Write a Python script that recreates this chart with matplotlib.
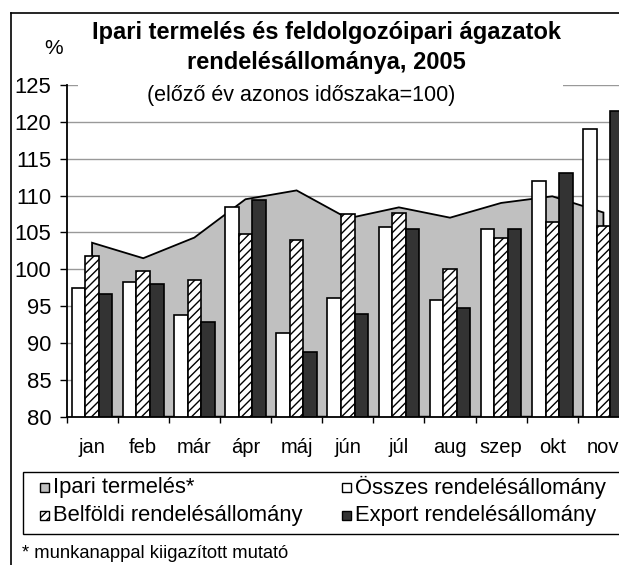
import matplotlib
matplotlib.use('Agg')
import matplotlib.pyplot as plt
from matplotlib.patches import Rectangle
from matplotlib.lines import Line2D
import numpy as np

plt.rcParams['font.family'] = ['Liberation Sans', 'DejaVu Sans']
plt.rcParams['hatch.linewidth'] = 1.0

months = ['jan', 'feb', 'már', 'ápr', 'máj', 'jún', 'júl', 'aug', 'szep', 'okt', 'nov']
ipari = [103.6, 101.5, 104.3, 109.5, 110.7, 106.9, 108.4, 107.0, 109.0, 109.9, 107.7]
osszes = [97.5, 98.3, 93.75, 108.5, 91.3, 96.15, 105.8, 95.8, 105.5, 112.0, 119.0]
belfoldi = [101.85, 99.7, 98.55, 104.8, 104.0, 107.5, 107.7, 100.1, 104.3, 106.4, 105.9]
export = [96.7, 98.0, 92.9, 109.4, 88.8, 93.9, 105.5, 94.75, 105.5, 113.1, 121.5]
yticks = [80, 85, 90, 95, 100, 105, 110, 115, 120, 125]

title1 = 'Ipari termelés és feldolgozóipari ágazatok'
title2 = 'rendelésállománya, 2005'
subtitle = '(előző év azonos időszaka=100)'
legend_labels = ['Ipari termelés*', 'Összes rendelésállomány',
                 'Belföldi rendelésállomány', 'Export rendelésállomány']
footnote = '* munkanappal kiigazított mutató'

W, H = 619, 565
fig = plt.figure(figsize=(W / 100, H / 100), dpi=100)
fig.patch.set_facecolor('white')


def fx(px):
    return px / W


def fy(py):
    return 1 - py / H


ax_left, ax_right, ax_top, ax_bot = 66.5, 629.0, 85.0, 416.7
ax = fig.add_axes([fx(ax_left), fy(ax_bot), (ax_right - ax_left) / W, (ax_bot - ax_top) / H])

x = np.arange(len(months))
bw = 0.265

ax.set_axisbelow(True)
ax.yaxis.grid(True, color='#999999', lw=1.0)

# area
ax.fill(np.r_[x, x[-1], x[0]], np.r_[ipari, 80, 80],
        facecolor='#c0c0c0', edgecolor='black', lw=1.3, zorder=1)

ax.bar(x - bw, osszes, bw, color='white', edgecolor='black', lw=1.2, zorder=2)
ax.bar(x, belfoldi, bw, color='white', edgecolor='black', lw=1.2, hatch='////', zorder=2)
ax.bar(x + bw, export, bw, color='#333333', edgecolor='black', lw=1.2, zorder=2)

ax.set_xlim(-0.5, len(months) - 0.5)
ax.set_ylim(80, 125)
ax.set_yticks(yticks)
ax.set_xticks(x, months)
ax.set_xticks(np.arange(-0.5, len(months), 1), minor=True)
ax.tick_params(axis='x', which='major', length=0, pad=15, labelsize=14.5)
ax.tick_params(axis='x', which='minor', length=4, width=1, direction='out')
ax.tick_params(axis='y', length=5, width=1, direction='out', pad=6, labelsize=15.8)
for s in ['top', 'right']:
    ax.spines[s].set_visible(False)
ax.spines['left'].set_linewidth(1.3)
ax.spines['bottom'].set_linewidth(1.3)
ax.patch.set_alpha(0)

# title box
fig.add_artist(Rectangle((fx(78), fy(108)), (563 - 78) / W, (108 - 14) / H,
                         transform=fig.transFigure, facecolor='white', edgecolor='none', zorder=3))
fig.text(fx(326), fy(32), title1, ha='center', va='center', fontsize=17,
         fontweight='bold', zorder=4)
fig.text(fx(326), fy(62), title2, ha='center', va='center', fontsize=17,
         fontweight='bold', zorder=4)
fig.text(fx(301), fy(95), subtitle, ha='center', va='center', fontsize=15.5, zorder=4)
fig.text(fx(54), fy(48), '%', ha='center', va='center', fontsize=15, zorder=4)

# outer frame
fig.add_artist(Line2D([fx(11), fx(11)], [fy(13), 0], transform=fig.transFigure,
                      color='black', lw=1.2))
fig.add_artist(Line2D([fx(11), 1], [fy(13), fy(13)], transform=fig.transFigure,
                      color='black', lw=1.2))

# legend
fig.add_artist(Rectangle((fx(22.7), fy(534.3)), (700 - 22.7) / W, (534.3 - 471.7) / H,
                         transform=fig.transFigure, facecolor='white', edgecolor='black',
                         lw=1.0, zorder=3))
styles = [dict(facecolor='#c0c0c0', hatch=None), dict(facecolor='white', hatch=None),
          dict(facecolor='white', hatch='////'), dict(facecolor='#333333', hatch=None)]
pos = [(40, 487), (341.7, 487), (40, 515), (341.7, 515)]
for (px, py), lab, st in zip(pos, legend_labels, styles):
    fig.add_artist(Rectangle((fx(px), fy(py + 4.5)), 9 / W, 9 / H,
                             transform=fig.transFigure, facecolor=st['facecolor'],
                             hatch=st['hatch'], edgecolor='black', lw=1.0, zorder=4))
    fig.text(fx(px + 13), fy(py), lab, ha='left', va='center', fontsize=15.8, zorder=5)

fig.text(fx(22), fy(553), footnote, ha='left', va='center', fontsize=13.2, zorder=5)

fig.savefig('out.png', dpi=100)
